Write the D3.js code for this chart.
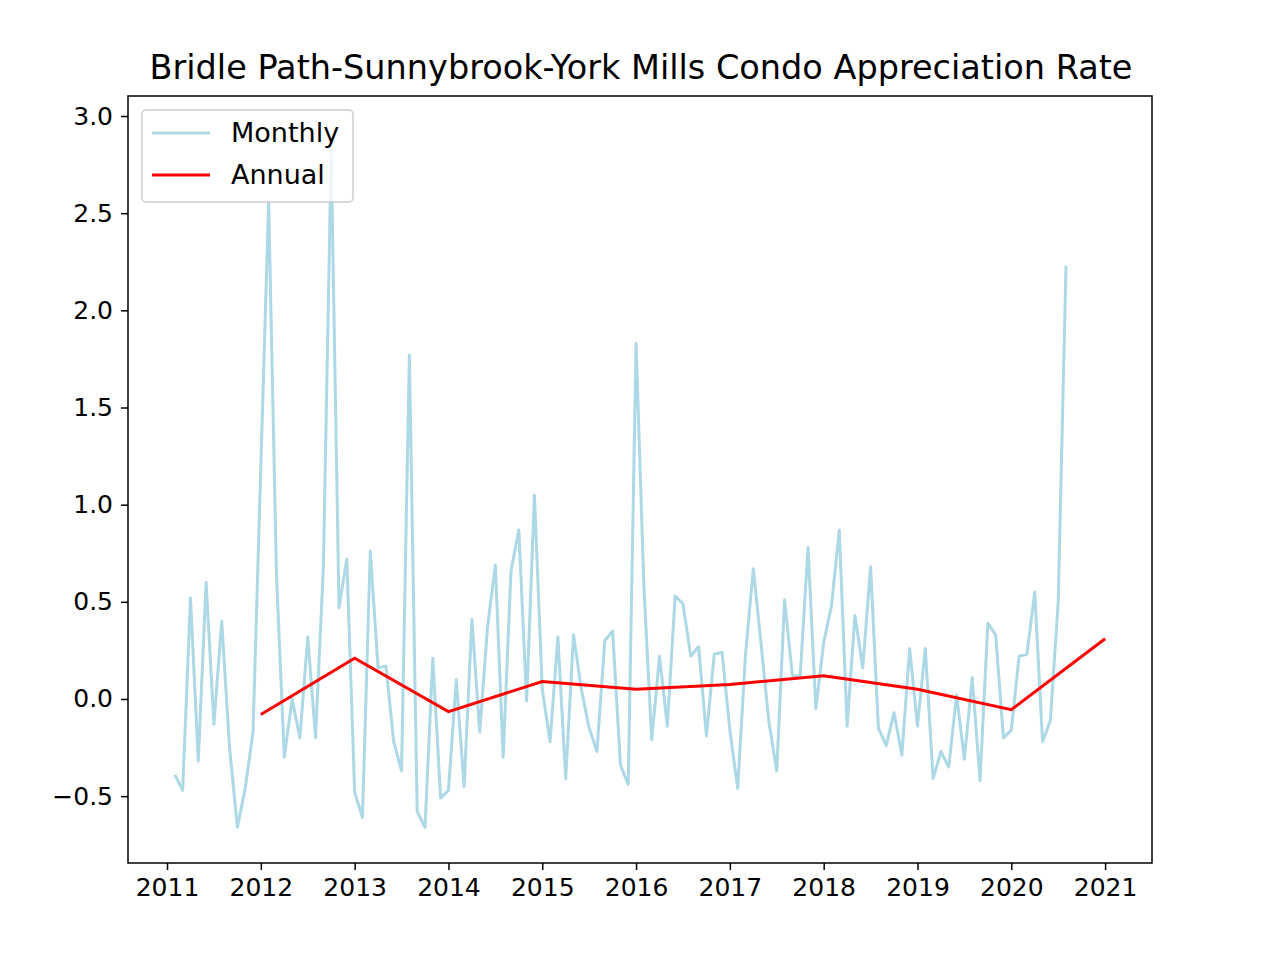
<!DOCTYPE html>
<html>
<head>
<meta charset="utf-8">
<script src="https://cdn.jsdelivr.net/npm/d3@7"></script>
<style>
  body { margin: 0; background: #fff; }
  text { font-family: "DejaVu Sans", sans-serif; }
</style>
</head>
<body>
<svg id="chart" width="1280" height="960"></svg>
<script>
// Monthly values, Feb 2011 .. Aug 2020
const monthlyValues = [
  -0.39, -0.47, 0.52, -0.32, 0.60, -0.13, 0.40, -0.25, -0.66, -0.46, -0.17,
  1.20, 2.56, 0.64, -0.30, 0.00, -0.20, 0.32, -0.20, 0.68, 2.82, 0.47, 0.72,
  -0.48, -0.61, 0.76, 0.16, 0.17, -0.22, -0.37, 1.77, -0.58, -0.66, 0.21,
  -0.51, -0.47, 0.10, -0.45, 0.41, -0.17, 0.37, 0.69, -0.30, 0.66, 0.87,
  -0.01, 1.05, 0.05, -0.22, 0.32, -0.41, 0.33, 0.05, -0.15, -0.27, 0.30,
  0.35, -0.34, -0.44, 1.83, 0.58, -0.21, 0.22, -0.14, 0.53, 0.49, 0.22,
  0.27, -0.19, 0.23, 0.24, -0.16, -0.46, 0.23, 0.67, 0.28, -0.12, -0.37,
  0.51, 0.12, 0.12, 0.78, -0.05, 0.29, 0.48, 0.87, -0.14, 0.43, 0.16, 0.68,
  -0.15, -0.24, -0.07, -0.29, 0.26, -0.14, 0.26, -0.41, -0.27, -0.35, 0.02,
  -0.31, 0.11, -0.42, 0.39, 0.33, -0.20, -0.16, 0.22, 0.23, 0.55, -0.22,
  -0.11, 0.50, 2.23
];
const annualYears = [2012, 2013, 2014, 2015, 2016, 2017, 2018, 2019, 2020, 2021];
const annualValues = [-0.08, 0.21, -0.065, 0.09, 0.05, 0.075, 0.12, 0.05, -0.055, 0.31];
const xTicks = [2011, 2012, 2013, 2014, 2015, 2016, 2017, 2018, 2019, 2020, 2021];
const yTicks = [-0.5, 0, 0.5, 1, 1.5, 2, 2.5, 3];

const monthly = monthlyValues.map((v, i) => ({ t: 2011 + (i + 1) / 12, v }));
const annual = annualYears.map((y, i) => ({ t: y, v: annualValues[i] }));

const margin = { top: 96, left: 128, right: 128, bottom: 97 };
const width = 1280, height = 960;
const svg = d3.select('#chart');

const x = d3.scaleLinear().domain([2010.584, 2021.5]).range([margin.left, width - margin.right]);
const y = d3.scaleLinear().domain([-0.844, 3.103]).range([height - margin.bottom, margin.top]);

const line = d3.line().x(d => x(d.t)).y(d => y(d.v));

svg.append('path').datum(monthly)
  .attr('d', line).attr('fill', 'none')
  .attr('stroke', '#add8e6').attr('stroke-width', 3).attr('stroke-linejoin', 'round');
svg.append('path').datum(annual)
  .attr('d', line).attr('fill', 'none')
  .attr('stroke', '#ff0000').attr('stroke-width', 3);

// axes
const xAxis = svg.append('g')
  .attr('transform', `translate(0,${height - margin.bottom})`)
  .call(d3.axisBottom(x).tickValues(xTicks).tickFormat(d3.format('d')).tickSize(7).tickPadding(8));
const yAxis = svg.append('g')
  .attr('transform', `translate(${margin.left},0)`)
  .call(d3.axisLeft(y).tickValues(yTicks).tickFormat(d => d < 0 ? '\u2212' + Math.abs(d).toFixed(1) : d.toFixed(1)).tickSize(7).tickPadding(8));
[xAxis, yAxis].forEach(a => {
  a.select('.domain').remove();
  a.selectAll('text').style('font-size', '25px').style('font-family', '"DejaVu Sans", sans-serif').attr('fill', '#000');
  a.selectAll('line').attr('stroke', '#000').attr('stroke-width', 1.5);
});

svg.append('rect')
  .attr('x', margin.left).attr('y', margin.top)
  .attr('width', width - margin.left - margin.right)
  .attr('height', height - margin.top - margin.bottom)
  .attr('fill', 'none').attr('stroke', '#000').attr('stroke-width', 1.5);

svg.append('text')
  .attr('x', (margin.left + width - margin.right) / 2 + 1).attr('y', 79)
  .attr('text-anchor', 'middle').style('font-size', '33.5px')
  .text('Bridle Path-Sunnybrook-York Mills Condo Appreciation Rate');

// legend
const legend = svg.append('g');
legend.append('rect')
  .attr('x', 142).attr('y', 110).attr('width', 211).attr('height', 92).attr('rx', 4)
  .attr('fill', '#fff').attr('fill-opacity', 0.8).attr('stroke', '#ccc').attr('stroke-width', 1.5);
const items = [{ label: 'Monthly', color: '#add8e6' }, { label: 'Annual', color: '#ff0000' }];
items.forEach((it, i) => {
  const cy = 133 + i * 42;
  legend.append('line').attr('x1', 152).attr('x2', 210).attr('y1', cy).attr('y2', cy)
    .attr('stroke', it.color).attr('stroke-width', 3);
  legend.append('text').attr('x', 231).attr('y', cy + 9).style('font-size', '27px').text(it.label);
});
</script>
</body>
</html>
